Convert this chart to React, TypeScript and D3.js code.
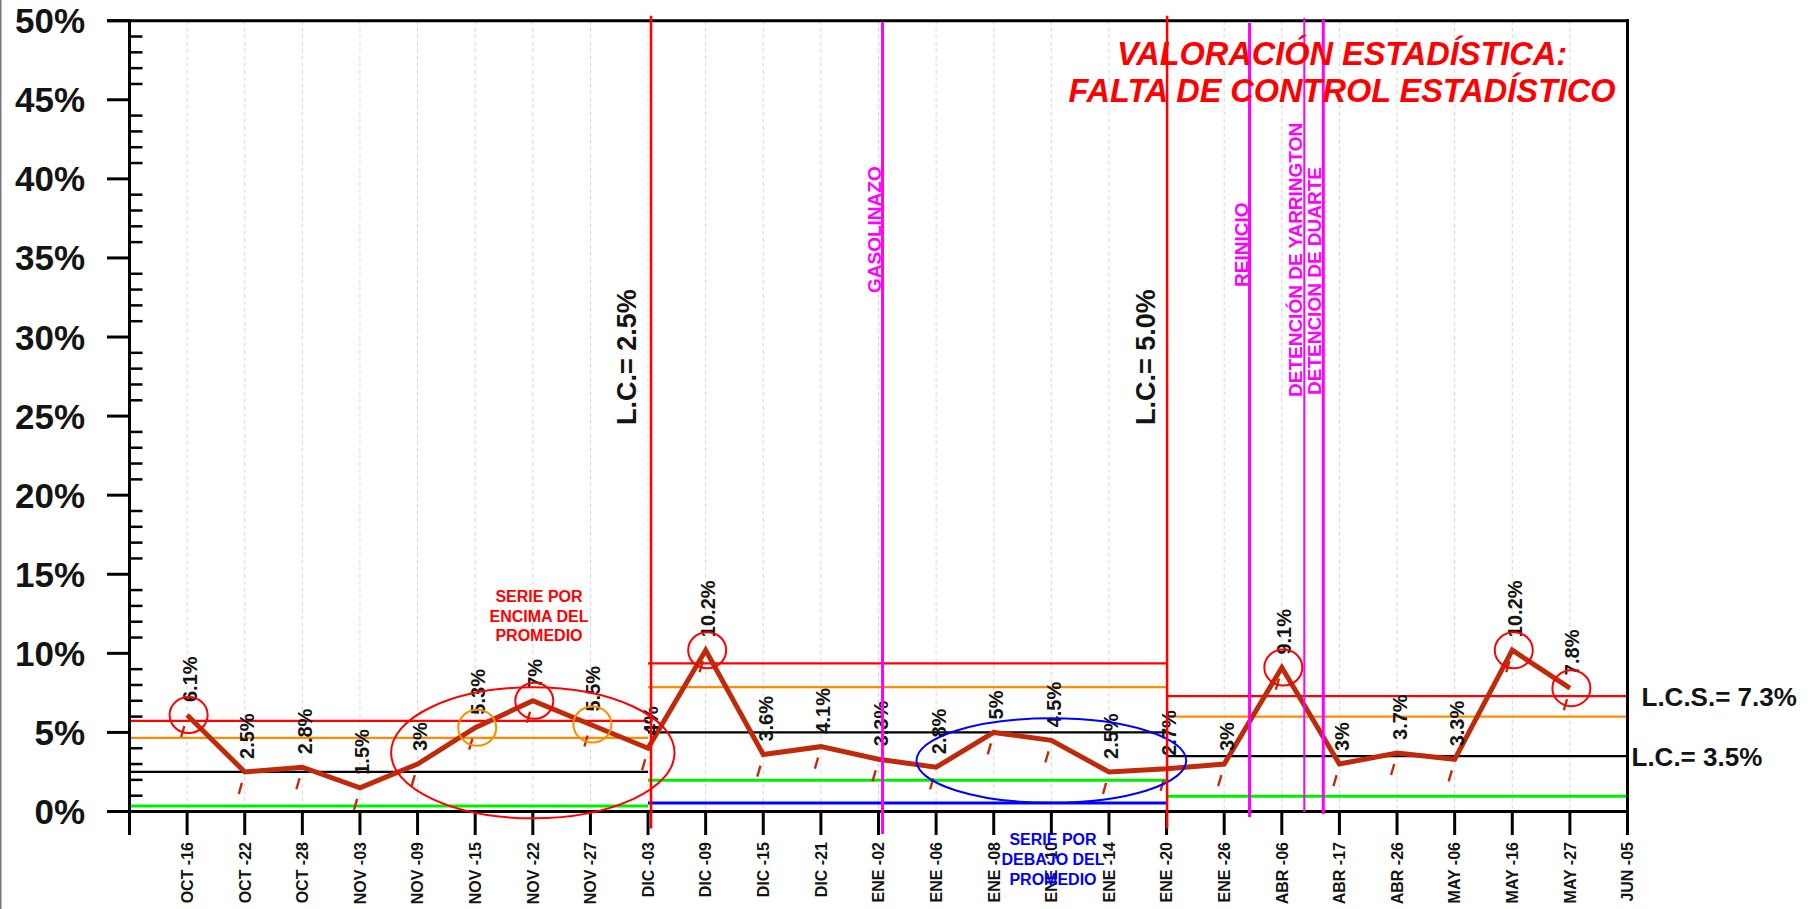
import React, { useEffect } from "react";
import * as d3 from "d3";

// ---------- data ----------
const dateLabels = [
  "OCT -16", "OCT -22", "OCT -28", "NOV -03", "NOV -09", "NOV -15", "NOV -22", "NOV -27",
  "DIC -03", "DIC -09", "DIC -15", "DIC -21", "ENE -02", "ENE -06", "ENE -08", "ENE -10",
  "ENE -14", "ENE -20", "ENE -26", "ABR -06", "ABR -17", "ABR -26", "MAY -06", "MAY -16",
  "MAY -27", "JUN -05",
];
const rates = [
  6.1, 2.5, 2.8, 1.5, 3, 5.3, 7, 5.5, 4, 10.2, 3.6, 4.1, 3.3, 2.8, 5, 4.5, 2.5, 2.7, 3,
  9.1, 3, 3.7, 3.3, 10.2, 7.8,
];
const yTicks = [0, 5, 10, 15, 20, 25, 30, 35, 40, 45, 50];

// control-limit segments (category slot positions)
const segStart = [0, 9, 18];
const segEnd = [9, 18, 26];
const segUCL = [5.73, 9.37, 7.3];
const segUpper2 = [4.65, 7.87, 6.0];
const segCL = [2.5, 5.0, 3.5];
const segLower2 = [0.35, 1.98, 0.97];
const segLCL: (number | null)[] = [null, 0.53, null];
const changeLabels = ["L.C.= 2.5%", "L.C.= 5.0%"]; // at segStart[1], segStart[2]
const rightLabels = ["L.C.S.= 7.3%", "L.C.= 3.5%"];
const rightValues = [7.3, 3.5];

// flagged points (slot index)
const redFlags = [1, 7, 10, 20, 24, 25];
const orangeFlags = [6, 8];

// events (fractional slot index)
const eventNames = ["GASOLINAZO", "REINICIO", "DETENCIÓN DE YARRINGTON", "DETENCION DE DUARTE"];
const eventPos = [13.07, 19.44, 20.39, 20.72];

// run annotations
const runNames = ["above", "below"];
const runCenterSlot = [7, 16];
const runCenterValue = [3.71, 3.22];
const runHalfSlots = [2.46, 2.34];
const runHalfValue = [4.14, 2.67];
const runTexts = [
  ["SERIE POR", "ENCIMA DEL", "PROMEDIO"],
  ["SERIE POR", "DEBAJO DEL", "PROMEDIO"],
];
const titleLines = ["VALORACIÓN ESTADÍSTICA:", "FALTA DE CONTROL ESTADÍSTICO"];

// ---------- layout ----------
const W = 1818;
const H = 909;
const FONT = "'Liberation Sans', Arial, Helvetica, sans-serif";
const INK = "#141414";
const LINE_COLOR = "#bf2a0a";

const x = d3.scaleLinear().domain([0, 26]).range([129.5, 1627.5]);
const y = d3.scaleLinear().domain([0, 50]).range([811.5, 20.7]);

const eventStyle = [
  { w: 3, top: 22, bottom: 834, labelY: 293 },
  { w: 3, top: 23, bottom: 817, labelY: 287 },
  { w: 2, top: 18, bottom: 812, labelY: 397 },
  { w: 3, top: 20, bottom: 814, labelY: 395 },
];
const changeOffset = [3, 0.5];
const runStyle = [
  { color: "#ff0000", textX: 539, textY: 602, lh: 19.5 },
  { color: "#0000ff", textX: 1053, textY: 845, lh: 20 },
];

export default function App() {
  useEffect(() => {
    document.body.style.margin = "0";
    document.body.style.overflow = "hidden";
  }, []);

  const slots = d3.range(1, 27);
  const minorTicks = d3.range(0, 51).filter((v) => v % 5 !== 0);
  const line = d3
    .line<number>()
    .x((_, i) => x(i + 1))
    .y((d) => y(d));

  const limitLine = (vals: (number | null)[], color: string, width: number, key: string) =>
    vals.map((v, i) =>
      v == null ? null : (
        <line
          key={key + i}
          x1={x(segStart[i])}
          x2={x(segEnd[i])}
          y1={y(v)}
          y2={y(v)}
          stroke={color}
          strokeWidth={width}
        />
      )
    );

  return (
    <svg
      width={W}
      height={H}
      style={{ position: "absolute", left: 0, top: 0, display: "block", background: "#fff" }}
      fontFamily={FONT}
    >
      <rect x={0} y={0} width={W} height={H} fill="#fff" />
      <line x1={0.75} x2={0.75} y1={0} y2={H} stroke="#777" strokeWidth={1.5} />

      {/* grid */}
      {slots.map((s) => (
        <line
          key={"g" + s}
          x1={x(s)}
          x2={x(s)}
          y1={y(50)}
          y2={y(0)}
          stroke="#d6d6d6"
          strokeWidth={1}
          strokeDasharray="4,3"
        />
      ))}

      {/* control limits */}
      {limitLine(segUCL, "#ff0000", 2.2, "ucl")}
      {limitLine(segUpper2, "#ff8c00", 2.2, "u2")}
      {limitLine(segCL, "#000", 2.2, "cl")}
      {limitLine(segLower2, "#00ee00", 3, "l2")}
      {limitLine(segLCL, "#0000ff", 3, "lcl")}

      {/* axes */}
      <line x1={x(0)} x2={x(0)} y1={y(50) - 1.5} y2={y(0) + 23.5} stroke="#000" strokeWidth={3} />
      <line x1={x(26)} x2={x(26)} y1={y(50) - 1.5} y2={y(0) + 23.5} stroke="#000" strokeWidth={3} />
      <line x1={x(0) - 22.5} x2={x(26) + 1.5} y1={y(0)} y2={y(0)} stroke="#000" strokeWidth={3} />
      <line x1={x(0) - 22.5} x2={x(26) + 1.5} y1={y(50)} y2={y(50)} stroke="#000" strokeWidth={3} />
      {yTicks.map((t) => (
        <g key={"yt" + t}>
          <line x1={x(0) - 22.5} x2={x(0)} y1={y(t)} y2={y(t)} stroke="#000" strokeWidth={3} />
          <text
            x={85}
            y={y(t) + 12.5}
            textAnchor="end"
            fontSize={35}
            fontWeight="bold"
            fill={INK}
          >
            {t}%
          </text>
        </g>
      ))}
      {minorTicks.map((t) => (
        <line key={"mt" + t} x1={x(0)} x2={x(0) + 13} y1={y(t)} y2={y(t)} stroke="#000" strokeWidth={2.5} />
      ))}
      {slots.map((s, i) => (
        <g key={"xt" + s}>
          <line x1={x(s)} x2={x(s)} y1={y(0)} y2={y(0) + 23.5} stroke="#000" strokeWidth={3} />
          <text
            transform={`translate(${x(s) + 5.8},${842}) rotate(-90)`}
            textAnchor="end"
            fontSize={16}
            fontWeight="bold"
            fill={INK}
          >
            {dateLabels[i]}
          </text>
        </g>
      ))}

      {/* data line */}
      <path
        d={line(rates) || ""}
        fill="none"
        stroke={LINE_COLOR}
        strokeWidth={5}
        strokeLinejoin="miter"
      />
      {rates.map((v, i) => (
        <line
          key={"sl" + i}
          x1={x(i + 1) - 6}
          y1={y(v) + 22}
          x2={x(i + 1) - 2.8}
          y2={y(v) + 11}
          stroke={LINE_COLOR}
          strokeWidth={2.4}
        />
      ))}
      {rates.map((v, i) => (
        <text
          key={"dl" + i}
          transform={`translate(${x(i + 1) + 9.5},${y(v) - 13}) rotate(-90)`}
          fontSize={20}
          fontWeight="bold"
          fill={INK}
        >
          {`${v}%`}
        </text>
      ))}

      {/* flagged points */}
      {redFlags.map((s) => (
        <ellipse
          key={"rf" + s}
          cx={x(s) + 1.5}
          cy={y(rates[s - 1])}
          rx={19}
          ry={18}
          fill="none"
          stroke="#ff0000"
          strokeWidth={2}
        />
      ))}
      {orangeFlags.map((s) => (
        <ellipse
          key={"of" + s}
          cx={x(s) + 2}
          cy={y(rates[s - 1])}
          rx={19}
          ry={18}
          fill="none"
          stroke="#ff8c00"
          strokeWidth={2}
        />
      ))}

      {/* runs */}
      {runNames.map((n, i) => {
        const cx = x(runCenterSlot[i]);
        const cy = y(runCenterValue[i]);
        const rx = x(runCenterSlot[i] + runHalfSlots[i]) - cx;
        const ry = cy - y(runCenterValue[i] + runHalfValue[i]);
        return (
          <ellipse key={"run" + n} cx={cx} cy={cy} rx={rx} ry={ry} fill="none" stroke={runStyle[i].color} strokeWidth={2} />
        );
      })}

      {/* segment change lines */}
      {[segStart[1], segStart[2]].map((s, i) => (
        <g key={"chg" + s}>
          <line
            x1={x(s) + changeOffset[i]}
            x2={x(s) + changeOffset[i]}
            y1={y(50) - 5}
            y2={y(0) + 17}
            stroke="#ff0000"
            strokeWidth={2.5}
          />
          <text
            transform={`translate(${x(s) - 12},${425}) rotate(-90)`}
            fontSize={27}
            fontWeight="bold"
            fill={INK}
          >
            {changeLabels[i]}
          </text>
        </g>
      ))}

      {/* events */}
      {eventNames.map((n, i) => (
        <g key={"ev" + i}>
          <line
            x1={x(eventPos[i])}
            x2={x(eventPos[i])}
            y1={eventStyle[i].top}
            y2={eventStyle[i].bottom}
            stroke="#ff00ff"
            strokeWidth={eventStyle[i].w}
          />
          <text
            transform={`translate(${x(eventPos[i]) - 1.8},${eventStyle[i].labelY}) rotate(-90)`}
            fontSize={19}
            fontWeight="bold"
            fill="#ff00ff"
          >
            {n}
          </text>
        </g>
      ))}

      {/* run texts */}
      {runTexts.map((lines, i) => (
        <text
          key={"rt" + i}
          textAnchor="middle"
          fontSize={16}
          fontWeight="bold"
          fill={runStyle[i].color}
        >
          {lines.map((l, j) => (
            <tspan key={j} x={runStyle[i].textX} y={runStyle[i].textY + j * runStyle[i].lh}>
              {l}
            </tspan>
          ))}
        </text>
      ))}

      {/* right labels */}
      {rightLabels.map((l, i) => (
        <text
          key={"rl" + i}
          x={i === 0 ? x(26) + 14 : x(26) + 4}
          y={y(rightValues[i]) + 9.5}
          fontSize={26}
          fontWeight="bold"
          fill={INK}
        >
          {l}
        </text>
      ))}

      {/* title */}
      {titleLines.map((l, i) => (
        <text
          key={"tt" + i}
          x={1342}
          y={65 + i * 37}
          textAnchor="middle"
          fontSize={32.5}
          fontWeight="bold"
          fontStyle="italic"
          fill="#ff0000"
        >
          {l}
        </text>
      ))}
    </svg>
  );
}
